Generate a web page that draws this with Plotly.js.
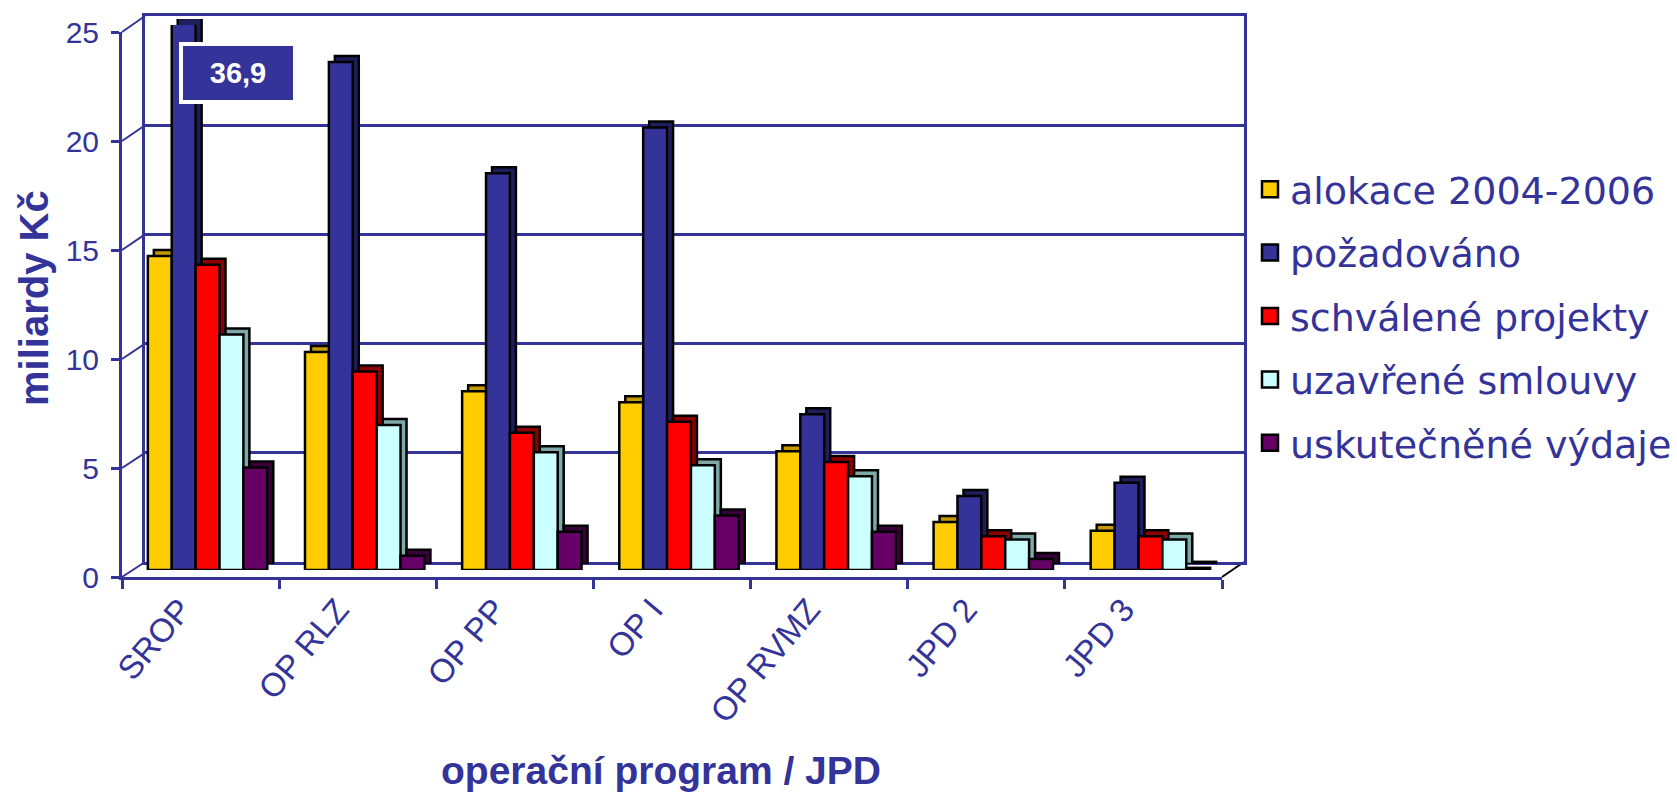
<!DOCTYPE html>
<html>
<head>
<meta charset="utf-8">
<script src="https://cdn.plot.ly/plotly-3.0.1.min.js"></script>
<style>
  html, body { margin: 0; padding: 0; background: #ffffff; }
  #chart { width: 1677px; height: 792px; }
</style>
</head>
<body>
<div id="chart"></div>
<script>
// ---- data (miliardy Kč) ----
const categories = ['SROP', 'OP RLZ', 'OP PP', 'OP I', 'OP RVMZ', 'JPD 2', 'JPD 3'];
const seriesNames = ['alokace 2004-2006', 'požadováno', 'schválené projekty', 'uzavřené smlouvy', 'uskutečněné výdaje'];
const alokace     = [14.4, 10.0, 8.2, 7.7, 5.45, 2.2, 1.8];
const pozadovano  = [36.9, 23.3, 18.2, 20.3, 7.15, 3.4, 4.0];
const schvalene   = [14.0, 9.1, 6.3, 6.8, 4.95, 1.55, 1.55];
const uzavrene    = [10.8, 6.65, 5.4, 4.8, 4.3, 1.4, 1.4];
const vydaje      = [4.7, 0.65, 1.75, 2.5, 1.75, 0.5, 0.1];
const yTicks      = [0, 5, 10, 15, 20, 25];
const clippedLabel = '36,9';
const xTitle = 'operační program / JPD';
const yTitle = 'miliardy Kč';

// ---- styling ----
const faceColors = ['#FFCC00', '#333399', '#FF0000', '#CCFFFF', '#660066'];
const sideColors = ['#C49A00', '#1E1E5A', '#8C0000', '#7FA8A8', '#3A003A'];
const ink = '#333399';
const font = 'Liberation Sans, Arial, sans-serif';
const wide = 'DejaVu Sans, Verdana, sans-serif';

const series = [alokace, pozadovano, schvalene, uzavrene, vydaje];

// plot area geometry (px) -> paper fractions
const L = 122, R = 433, T = 16, B = 215;
const W = 1677 - L - R, H = 792 - T - B;
const fx = px => (px - L) / W;          // px from left edge of page
const fy = py => (792 - B - py) / H;    // py from top edge of page

// front axis / back wall geometry (px)
const FRONT = { left: 122, right: 1222, bottom: 577, top: 32 };
const BACK  = { left: 145, right: 1244, bottom: 562, top: 16 };
const yMax = yTicks[yTicks.length - 1];
const frontY = v => FRONT.bottom - (FRONT.bottom - FRONT.top) * v / yMax;
const backY  = v => BACK.bottom - (BACK.bottom - BACK.top) * v / yMax;

const traces = [];
// invisible carriers so the front axes and the back wall get drawn
traces.push({ type: 'scatter', mode: 'none', x: categories, y: alokace, xaxis: 'x', yaxis: 'y', showlegend: false, hoverinfo: 'skip' });
traces.push({ type: 'scatter', mode: 'none', x: categories, y: alokace, xaxis: 'x2', yaxis: 'y2', showlegend: false, hoverinfo: 'skip' });
// side/top faces (drawn first, slightly behind and up-right)
series.forEach((vals, i) => {
  traces.push({
    type: 'bar', x: categories, y: vals, xaxis: 'x3', yaxis: 'y3',
    marker: { color: sideColors[i], line: { color: '#000000', width: 2.5 } },
    showlegend: false, hoverinfo: 'skip'
  });
});
// front faces
series.forEach((vals, i) => {
  traces.push({
    type: 'bar', x: categories, y: vals, xaxis: 'x4', yaxis: 'y4',
    name: seriesNames[i], legendgroup: 'g' + i, showlegend: false,
    marker: { color: faceColors[i], line: { color: '#000000', width: 2.5 } }
  });
});
// legend keys (square markers, kept on a hidden subplot whose range excludes them)
series.forEach((vals, i) => {
  traces.push({
    type: 'scatter', mode: 'markers', x: categories, y: vals, xaxis: 'x5', yaxis: 'y5',
    name: seriesNames[i], legendgroup: 'g' + i, cliponaxis: true, hoverinfo: 'skip',
    marker: { symbol: 'square', size: 16, color: faceColors[i], line: { color: '#000000', width: 2.5 } }
  });
});

const catRange = [-0.5, categories.length - 0.5];
const yRange = [yTicks[0], yMax];

// small depth connectors between the front axis and the back wall
const shapes = yTicks.map(v => ({
  type: 'line', xref: 'paper', yref: 'paper', layer: 'below',
  x0: fx(FRONT.left), y0: fy(frontY(v)), x1: fx(BACK.left), y1: fy(backY(v)),
  line: { color: ink, width: 2 }
}));
shapes.push({
  type: 'line', xref: 'paper', yref: 'paper', layer: 'below',
  x0: fx(FRONT.right), y0: fy(FRONT.bottom), x1: fx(BACK.right), y1: fy(BACK.bottom),
  line: { color: '#000000', width: 2 }
});

const layout = {
  width: 1677, height: 792,
  margin: { l: L, r: R, t: T, b: B, autoexpand: false },
  paper_bgcolor: '#ffffff', plot_bgcolor: 'rgba(0,0,0,0)',
  barmode: 'group', bargap: 0.24, bargroupgap: 0,
  font: { family: font, color: ink },
  showlegend: true,
  legend: {
    x: fx(1250), xanchor: 'left', y: fy(158), yanchor: 'top',
    font: { family: wide, size: 38, color: ink },
    traceorder: 'grouped', tracegroupgap: 11,
    bgcolor: 'rgba(0,0,0,0)', itemwidth: 30
  },
  shapes: shapes,
  // front axes (with labels)
  xaxis: {
    domain: [0, fx(FRONT.right)], anchor: 'y', type: 'category', range: catRange,
    showline: true, linecolor: ink, linewidth: 3,
    ticks: 'outside', tickson: 'boundaries', ticklen: 9, tickwidth: 3, tickcolor: ink,
    tickangle: -50, tickfont: { family: font, size: 33, color: ink },
    ticklabelshift: -20, ticklabelstandoff: -3,
    showgrid: false, zeroline: false, fixedrange: true
  },
  yaxis: {
    domain: [0, fy(FRONT.top)], anchor: 'x', range: yRange,
    tickmode: 'array', tickvals: yTicks, ticktext: yTicks.map(String),
    showline: true, linecolor: ink, linewidth: 3,
    ticks: 'outside', ticklen: 8, tickwidth: 3, tickcolor: ink,
    tickfont: { family: font, size: 30, color: ink },
    ticklabelstandoff: 6,
    showgrid: false, zeroline: false, fixedrange: true
  },
  // back wall with gridlines
  xaxis2: {
    domain: [fx(BACK.left), fx(BACK.right)], anchor: 'y2', type: 'category', range: catRange,
    showline: true, mirror: true, linecolor: ink, linewidth: 3,
    showticklabels: false, ticks: '', showgrid: false, zeroline: false, fixedrange: true
  },
  yaxis2: {
    domain: [fy(BACK.bottom), fy(BACK.top)], anchor: 'x2', range: yRange,
    tickmode: 'array', tickvals: yTicks,
    showline: true, mirror: true, linecolor: ink, linewidth: 3,
    showticklabels: false, ticks: '', showgrid: true, gridcolor: ink, gridwidth: 3,
    zeroline: false, fixedrange: true
  },
  // depth faces
  xaxis3: { domain: [fx(135), fx(1235)], anchor: 'y3', type: 'category', range: catRange, visible: false, fixedrange: true },
  yaxis3: { domain: [fy(564), fy(19)], anchor: 'x3', range: yRange, visible: false, fixedrange: true },
  // front faces of the bars
  xaxis4: { domain: [fx(129), fx(1229)], anchor: 'y4', type: 'category', range: catRange, visible: false, fixedrange: true },
  yaxis4: { domain: [fy(570), fy(25)], anchor: 'x4', range: yRange, visible: false, fixedrange: true },
  // hidden subplot that only carries the legend keys
  xaxis5: { domain: [fx(129), fx(1229)], anchor: 'y5', type: 'category', range: catRange, visible: false, fixedrange: true },
  yaxis5: { domain: [fy(570), fy(25)], anchor: 'x5', range: [-200, -100], visible: false, fixedrange: true },
  annotations: [
    {
      xref: 'paper', yref: 'paper', x: fx(238), y: fy(73),
      xanchor: 'center', yanchor: 'middle',
      text: '<b>' + clippedLabel + '</b>', showarrow: false,
      font: { family: font, size: 29, color: '#ffffff' },
      bgcolor: ink, bordercolor: '#ffffff', borderwidth: 4,
      width: 108, height: 52, align: 'center', valign: 'middle'
    },
    {
      xref: 'paper', yref: 'paper', x: fx(661), y: fy(770),
      xanchor: 'center', yanchor: 'middle', showarrow: false,
      text: '<b>' + xTitle + '</b>',
      font: { family: font, size: 39, color: ink }
    },
    {
      xref: 'paper', yref: 'paper', x: fx(34), y: fy(298),
      xanchor: 'center', yanchor: 'middle', showarrow: false, textangle: -90,
      text: '<b>' + yTitle + '</b>',
      font: { family: font, size: 40, color: ink }
    }
  ]
};

Plotly.newPlot('chart', traces, layout, { displayModeBar: false, staticPlot: true });
</script>
</body>
</html>
